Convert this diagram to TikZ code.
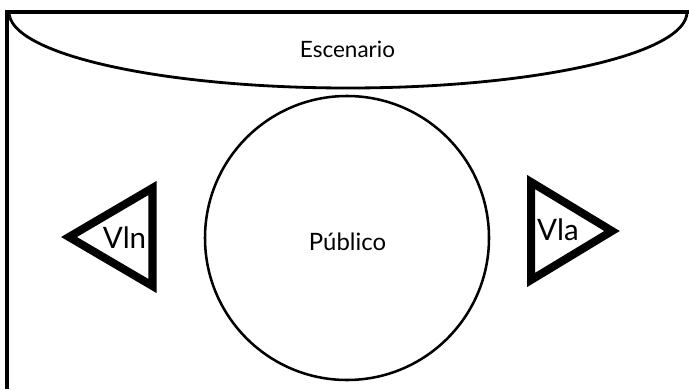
\documentclass[tikz,border=0pt]{standalone}
\usepackage{fontspec}
\setmainfont{Lato}
\usepackage{tikz}
\usetikzlibrary{positioning}

\tikzset{
  wall/.style={line width=2.2pt},
  seat/.style={line width=5.7pt, line join=miter},
  label/.style={inner sep=0pt, anchor=base, font=\fontsize{16}{18}\selectfont},
  big/.style={inner sep=0pt, anchor=base, font=\fontsize{21}{24}\selectfont}
}

\begin{document}
\begin{tikzpicture}[x=0.025cm, y=0.025cm]
\useasboundingbox (0,0) rectangle (689,389);

%Hall
\draw[wall] (689,377) -- (7,377) -- (7,0);

%Stage
\draw[line width=2pt] (9,377) arc (180:360:339 and 76);
\node[label] (escenario) at (347.5,331) {Escenario};

%Audience
\draw[line width=1.8pt] (347,151) circle (142);
\node[label, font=\fontsize{17}{19}\selectfont] (publico) at (347.5,139) {Público};

%Violins
\draw[seat] (69,152) -- (152.5,201) -- (152.5,103) -- cycle;
\node[big] (vln) at (124.5,141) {Vln};

%Violas
\draw[seat] (612,158) -- (531,207) -- (531,109) -- cycle;
\node[big] (vla) at (558,149) {Vla};

\end{tikzpicture}
\end{document}
